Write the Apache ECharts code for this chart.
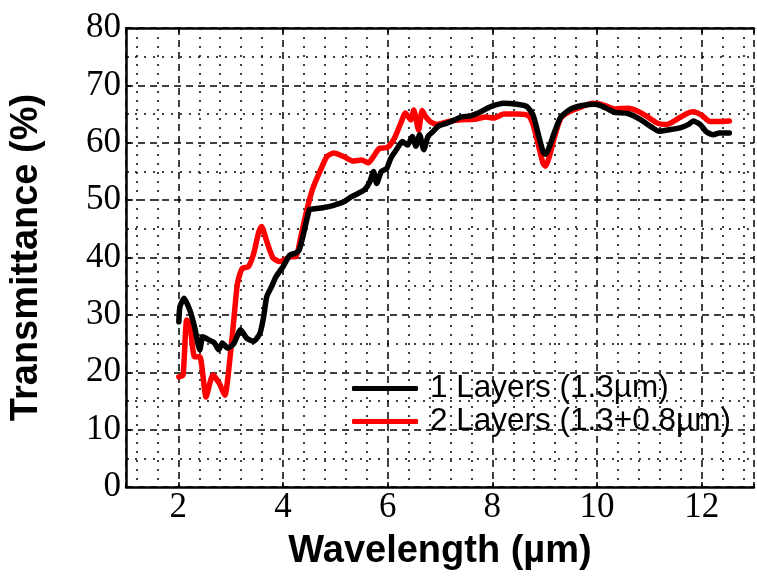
<!DOCTYPE html>
<html>
<head>
<meta charset="utf-8">
<script src="https://cdn.jsdelivr.net/npm/echarts@6/dist/echarts.min.js"></script>
<style>html,body{margin:0;padding:0;background:#fff;}#c{width:757px;height:578px;}</style>
</head>
<body>
<div id="c"></div>
<script>
// Wavelength (µm) and transmittance (%)
var blackX = [2.01, 2.03, 2.11, 2.22, 2.31, 2.41, 2.47, 2.59, 2.69, 2.77, 2.84, 2.94, 3.06, 3.19, 3.31, 3.44, 3.56, 3.63, 3.69, 3.78, 3.87, 4.0, 4.13, 4.25, 4.31, 4.41, 4.5, 4.53, 4.78, 4.97, 5.16, 5.31, 5.44, 5.56, 5.66, 5.73, 5.79, 5.88, 5.98, 6.06, 6.16, 6.28, 6.38, 6.47, 6.54, 6.61, 6.69, 6.77, 6.86, 6.97, 7.13, 7.28, 7.41, 7.59, 7.78, 7.97, 8.22, 8.47, 8.66, 8.78, 8.88, 8.97, 9.02, 9.09, 9.19, 9.31, 9.5, 9.72, 9.97, 10.16, 10.34, 10.59, 10.84, 11.03, 11.19, 11.34, 11.59, 11.75, 11.84, 11.97, 12.09, 12.22, 12.34, 12.53];
var blackY = [28.8, 31.4, 32.9, 30.8, 27.9, 23.9, 26.2, 25.6, 25.1, 23.9, 25.1, 24.2, 25.0, 27.4, 25.9, 25.4, 26.8, 29.7, 33.2, 34.9, 36.7, 38.4, 40.4, 40.8, 41.3, 44.8, 48.3, 48.4, 48.7, 49.1, 49.7, 50.6, 51.2, 51.8, 53.2, 55.0, 52.9, 55.0, 55.5, 57.3, 58.7, 60.2, 59.6, 61.1, 59.4, 61.4, 58.8, 61.1, 61.9, 62.9, 63.4, 64.0, 64.5, 64.7, 65.4, 66.3, 66.9, 66.7, 66.3, 64.8, 61.4, 58.4, 58.0, 59.3, 61.9, 64.5, 65.9, 66.5, 66.7, 66.1, 65.3, 65.1, 64.0, 62.8, 62.0, 62.2, 62.6, 63.2, 63.8, 63.2, 61.9, 61.4, 61.7, 61.7];
var redX = [2.01, 2.09, 2.16, 2.22, 2.31, 2.41, 2.53, 2.66, 2.78, 2.89, 2.97, 3.06, 3.13, 3.22, 3.34, 3.44, 3.53, 3.59, 3.69, 3.81, 3.94, 4.13, 4.25, 4.34, 4.44, 4.56, 4.72, 4.84, 4.97, 5.16, 5.34, 5.5, 5.63, 5.75, 5.84, 6.0, 6.13, 6.25, 6.34, 6.44, 6.5, 6.59, 6.66, 6.73, 6.81, 6.94, 7.16, 7.41, 7.66, 7.88, 8.03, 8.22, 8.47, 8.69, 8.78, 8.88, 8.97, 9.02, 9.09, 9.19, 9.31, 9.47, 9.72, 9.91, 10.09, 10.34, 10.59, 10.78, 10.97, 11.16, 11.34, 11.53, 11.72, 11.84, 12.0, 12.16, 12.34, 12.53];
var redY = [19.2, 19.5, 29.1, 28.5, 22.7, 22.7, 15.7, 19.5, 18.1, 16.0, 21.0, 29.1, 35.5, 38.1, 38.4, 40.7, 44.2, 45.4, 42.8, 39.9, 39.3, 40.1, 40.2, 43.6, 47.7, 51.8, 55.3, 57.6, 58.2, 57.6, 56.8, 57.0, 56.5, 57.9, 59.0, 59.2, 60.8, 63.4, 65.2, 64.0, 65.7, 62.2, 65.6, 64.5, 63.7, 63.2, 63.7, 64.0, 64.1, 64.5, 64.3, 65.0, 65.0, 64.7, 63.1, 59.6, 56.4, 55.9, 57.6, 61.1, 64.3, 65.4, 66.3, 66.9, 66.7, 65.9, 66.0, 65.5, 64.5, 63.4, 63.2, 64.1, 65.1, 65.4, 64.8, 63.7, 63.7, 63.8];
var seriesNames = ['1 Layers (1.3µm)', '2 Layers (1.3+0.8µm)'];
var xTitle = 'Wavelength (µm)';
var yTitle = 'Transmittance (%)';

function pairs(xs, ys) { return xs.map(function (x, i) { return [x, ys[i]]; }); }

var chart = echarts.init(document.getElementById('c'), null, {renderer: 'canvas'});
var dashed = {color: '#000', width: 1.5, type: [7, 5]};
var dotted = {color: '#000', width: 1.5, type: [2, 7]};
chart.setOption({
  animation: false,
  backgroundColor: '#fff',
  grid: {left: 125, right: -8, top: 28, bottom: 91, containLabel: false},
  legend: {
    orient: 'vertical', left: 352, top: 372, padding: 0,
    itemWidth: 66, itemHeight: 5, itemGap: 0, icon: 'roundRect',
    textStyle: {fontFamily: 'Liberation Sans', fontSize: 31.5, color: '#000', lineHeight: 33, padding: [0, 0, 0, 7]},
    data: seriesNames
  },
  xAxis: [{
    type: 'value', min: 1, max: 13, splitNumber: 6, position: 'bottom',
    name: xTitle, nameLocation: 'middle', nameGap: 46,
    nameTextStyle: {fontFamily: 'Liberation Sans', fontWeight: 'bold', fontSize: 38, color: '#000'},
    axisLine: {show: true, onZero: false, lineStyle: {color: '#000', width: 2.5}},
    axisTick: {show: true, inside: true, length: 5, lineStyle: {color: '#000', width: 1.5}},
    minorTick: {show: false, splitNumber: 5},
    splitLine: {show: true, lineStyle: dashed},
    minorSplitLine: {show: true, lineStyle: dotted},
    axisLabel: {fontFamily: 'Liberation Serif', fontSize: 35, color: '#000', margin: 3,
      formatter: function (v) { return (v % 2 === 0) ? String(v) : ''; }}
  }, {
    type: 'value', min: 1, max: 13, splitNumber: 6, position: 'top',
    axisLine: {show: true, onZero: false, lineStyle: {color: '#000', width: 2.5}},
    axisTick: {show: true, inside: true, length: 5, lineStyle: {color: '#000', width: 1.5}},
    axisLabel: {show: false}, splitLine: {show: false}
  }],
  yAxis: {
    type: 'value', min: 0, max: 80, interval: 10,
    name: yTitle, nameLocation: 'middle', nameGap: 80, nameRotate: 90,
    nameTextStyle: {fontFamily: 'Liberation Sans', fontWeight: 'bold', fontSize: 38, color: '#000'},
    axisLine: {show: true, onZero: false, lineStyle: {color: '#000', width: 2.5}},
    axisTick: {show: true, inside: true, length: 5, lineStyle: {color: '#000', width: 1.5}},
    minorTick: {show: true, splitNumber: 2, length: 3, lineStyle: {color: '#000', width: 1.5}},
    splitLine: {show: true, lineStyle: dashed},
    minorSplitLine: {show: true, lineStyle: dotted},
    axisLabel: {fontFamily: 'Liberation Serif', fontSize: 35, color: '#000', margin: 5}
  },
  series: [{
    name: seriesNames[0], type: 'line', data: pairs(blackX, blackY), xAxisIndex: 0,
    showSymbol: false, symbol: 'none', smooth: 0.2, color: '#000',
    lineStyle: {color: '#000', width: 5.5, cap: 'round', join: 'round'}, z: 3
  }, {
    name: seriesNames[1], type: 'line', data: pairs(redX, redY), xAxisIndex: 0,
    showSymbol: false, symbol: 'none', smooth: 0.2, color: '#ff0000',
    lineStyle: {color: '#ff0000', width: 5.5, cap: 'round', join: 'round'}, z: 2
  }]
});
</script>
</body>
</html>
